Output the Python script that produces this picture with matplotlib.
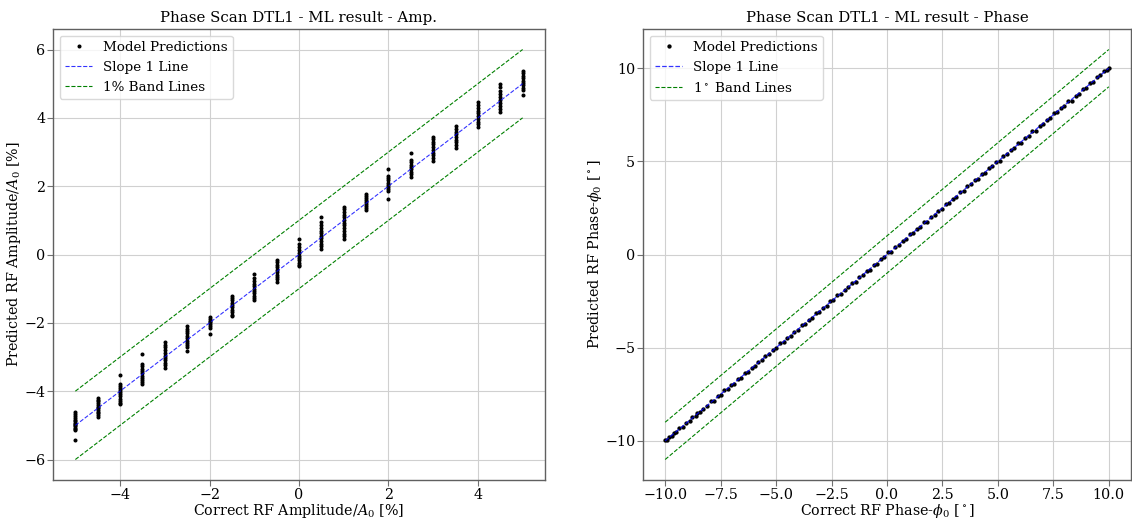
import matplotlib
matplotlib.use("Agg")
import matplotlib.pyplot as plt

# ---------------- data ----------------
amp_levels = [-5.0, -4.5, -4.0, -3.5, -3.0, -2.5, -2.0, -1.5, -1.0, -0.5, 0.0,
              0.5, 1.0, 1.5, 2.0, 2.5, 3.0, 3.5, 4.0, 4.5, 5.0]
amp_preds = [
    [-4.62, -4.68, -4.74, -4.79, -4.84, -4.88, -4.92, -4.96, -5.00, -5.03, -5.07, -5.12, -5.15, -5.43],
    [-4.20, -4.25, -4.30, -4.35, -4.40, -4.45, -4.50, -4.55, -4.60, -4.65, -4.70, -4.76],
    [-3.54, -3.78, -3.84, -3.90, -3.97, -4.03, -4.09, -4.15, -4.22, -4.28, -4.34, -4.39],
    [-2.90, -3.20, -3.27, -3.34, -3.41, -3.48, -3.55, -3.61, -3.67, -3.73, -3.79],
    [-2.57, -2.64, -2.72, -2.80, -2.88, -2.96, -3.03, -3.10, -3.17, -3.24, -3.31],
    [-2.10, -2.17, -2.24, -2.31, -2.38, -2.45, -2.52, -2.58, -2.64, -2.70, -2.83],
    [-1.84, -1.89, -1.94, -1.99, -2.04, -2.09, -2.14, -2.32],
    [-1.20, -1.27, -1.34, -1.41, -1.48, -1.55, -1.62, -1.69, -1.76, -1.80],
    [-0.57, -0.69, -0.77, -0.85, -0.93, -1.00, -1.07, -1.14, -1.21, -1.27, -1.33],
    [-0.15, -0.23, -0.31, -0.38, -0.45, -0.52, -0.59, -0.66, -0.73, -0.80],
    [0.45, 0.32, 0.22, 0.12, 0.04, -0.03, -0.10, -0.17, -0.24, -0.30, -0.34],
    [1.10, 0.95, 0.86, 0.78, 0.70, 0.62, 0.55, 0.47, 0.39, 0.31, 0.24, 0.17],
    [1.39, 1.33, 1.25, 1.17, 1.09, 1.01, 0.93, 0.85, 0.77, 0.69, 0.61, 0.53, 0.44],
    [1.78, 1.72, 1.66, 1.60, 1.54, 1.48, 1.42, 1.36, 1.30],
    [2.51, 2.31, 2.24, 2.17, 2.10, 2.03, 1.97, 1.91, 1.85, 1.63],
    [2.98, 2.77, 2.70, 2.63, 2.56, 2.49, 2.42, 2.35, 2.28],
    [3.45, 3.38, 3.30, 3.22, 3.14, 3.06, 2.98, 2.90, 2.82, 2.73],
    [3.76, 3.68, 3.60, 3.52, 3.44, 3.36, 3.28, 3.20, 3.12],
    [4.45, 4.37, 4.29, 4.21, 4.13, 4.05, 3.97, 3.89, 3.81, 3.74],
    [4.99, 4.89, 4.80, 4.71, 4.62, 4.53, 4.44, 4.35, 4.26, 4.17],
    [5.37, 5.30, 5.23, 5.16, 5.09, 5.02, 4.95, 4.88, 4.81, 4.66],
]

phase_true = [-10.0, -9.92, -9.85, -9.71, -9.6, -9.52, -9.38, -9.2, -9.05, -8.9,
              -8.78, -8.62, -8.55, -8.41, -8.3, -8.12, -7.95, -7.8, -7.62, -7.5,
              -7.33, -7.18, -7.05, -6.9, -6.71, -6.6, -6.42, -6.25, -6.1, -5.94,
              -5.8, -5.62, -5.48, -5.3, -5.15, -5.0, -4.82, -4.66, -4.5, -4.35,
              -4.18, -4.02, -3.85, -3.7, -3.52, -3.38, -3.2, -3.05, -2.9, -2.72,
              -2.55, -2.42, -2.25, -2.08, -1.9, -1.75, -1.58, -1.42, -1.25, -1.1,
              -0.92, -0.78, -0.6, -0.45, -0.28, -0.12, 0.05, 0.2, 0.38, 0.52,
              0.7, 0.85, 1.02, 1.18, 1.35, 1.5, 1.68, 1.82, 2.0, 2.15,
              2.32, 2.48, 2.65, 2.8, 2.98, 3.12, 3.3, 3.45, 3.62, 3.78,
              3.95, 4.1, 4.28, 4.42, 4.6, 4.75, 4.92, 5.08, 5.25, 5.4,
              5.58, 5.72, 5.9, 6.05, 6.22, 6.38, 6.55, 6.7, 6.88, 7.02,
              7.2, 7.35, 7.52, 7.68, 7.85, 8.0, 8.18, 8.32, 8.5, 8.65,
              8.82, 8.98, 9.15, 9.3, 9.48, 9.62, 9.8, 9.92, 10.0]
phase_pred = [-9.97, -9.95, -9.79, -9.76, -9.58, -9.53, -9.31, -9.26, -9.02, -8.92,
              -8.74, -8.65, -8.49, -8.46, -8.28, -8.13, -7.88, -7.86, -7.59, -7.52,
              -7.29, -7.21, -6.99, -6.95, -6.69, -6.61, -6.35, -6.31, -6.07, -5.96,
              -5.76, -5.65, -5.42, -5.35, -5.13, -5.01, -4.75, -4.72, -4.47, -4.37,
              -4.14, -4.05, -3.79, -3.75, -3.50, -3.39, -3.13, -3.11, -2.87, -2.74,
              -2.51, -2.45, -2.19, -2.13, -1.88, -1.76, -1.51, -1.48, -1.22, -1.12,
              -0.88, -0.81, -0.54, -0.50, -0.26, -0.13, 0.12, 0.14, 0.41, 0.50,
              0.74, 0.82, 1.08, 1.13, 1.37, 1.49, 1.75, 1.76, 2.03, 2.13,
              2.36, 2.45, 2.71, 2.75, 3.00, 3.11, 3.37, 3.39, 3.65, 3.76,
              3.99, 4.07, 4.34, 4.37, 4.62, 4.74, 4.99, 5.02, 5.28, 5.38,
              5.62, 5.69, 5.96, 6.00, 6.24, 6.37, 6.62, 6.64, 6.91, 7.00,
              7.24, 7.32, 7.58, 7.62, 7.88, 7.99, 8.25, 8.26, 8.53, 8.63,
              8.86, 8.95, 9.21, 9.24, 9.50, 9.61, 9.84, 9.89, 10.02]

amp_range = [-5.0, 5.0]
phase_range = [-10.0, 10.0]
band_amp = 1.0
band_phase = 1.0

# ---------------- style ----------------
plt.rcParams['font.family'] = ['DejaVu Serif']
plt.rcParams['mathtext.fontset'] = 'dejavuserif'

TICK_FS = 10.3
LABEL_FS = 10.3
LEG_FS = 9.7
TITLE_FS = 10.8

fig = plt.figure(figsize=(11.32, 5.18), dpi=100)
ax1 = fig.add_axes([53/1132, 1 - 480/518, (545 - 53)/1132, (480 - 29)/518])
ax2 = fig.add_axes([643/1132, 1 - 480/518, (1131 - 643)/1132, (480 - 29)/518])


def style(ax):
    ax.grid(True, color='#d0d0d0', linewidth=0.8)
    ax.set_axisbelow(True)
    for s in ax.spines.values():
        s.set_color('#606060')
        s.set_linewidth(1.0)
    ax.tick_params(colors='#707070', labelcolor='black', labelsize=TICK_FS, length=4, pad=1.5)


# left
ax = ax1
style(ax)
xs = []
ys = []
for lv, col in zip(amp_levels, amp_preds):
    xs.extend([lv] * len(col))
    ys.extend(col)
ax.plot(xs, ys, 'k.', markersize=3.8, label='Model Predictions')
ax.plot(amp_range, amp_range, '--', color='blue', lw=0.8, alpha=0.8, label='Slope 1 Line')
ax.plot(amp_range, [v + band_amp for v in amp_range], '--', color='green', lw=0.8, label='1% Band Lines')
ax.plot(amp_range, [v - band_amp for v in amp_range], '--', color='green', lw=0.8)
ax.set_title('Phase Scan DTL1 - ML result - Amp.', fontsize=TITLE_FS, pad=5)
ax.set_xlabel('Correct RF Amplitude/$A_0$ [%]', fontsize=LABEL_FS, labelpad=0)
ax.set_ylabel('Predicted RF Amplitude/$A_0$ [%]', fontsize=LABEL_FS, labelpad=1)
ax.legend(loc='upper left', fontsize=LEG_FS, framealpha=0.8, edgecolor='#d0d0d0')

# right
ax = ax2
style(ax)
ax.plot(phase_true, phase_pred, 'k.', markersize=4.2, label='Model Predictions')
ax.plot(phase_range, phase_range, '--', color='blue', lw=0.9, alpha=0.8, label='Slope 1 Line')
ax.plot(phase_range, [v + band_phase for v in phase_range], '--', color='green', lw=0.8, label='1$^\\circ$ Band Lines')
ax.plot(phase_range, [v - band_phase for v in phase_range], '--', color='green', lw=0.8)
ax.set_title('Phase Scan DTL1 - ML result - Phase', fontsize=TITLE_FS, pad=5)
ax.set_xlabel('Correct RF Phase-$\\phi_0$ [$^\\circ$]', fontsize=LABEL_FS, labelpad=0)
ax.set_ylabel('Predicted RF Phase-$\\phi_0$ [$^\\circ$]', fontsize=LABEL_FS, labelpad=1)
ax.legend(loc='upper left', fontsize=LEG_FS, framealpha=0.8, edgecolor='#d0d0d0')

fig.savefig('out.png', dpi=100)
